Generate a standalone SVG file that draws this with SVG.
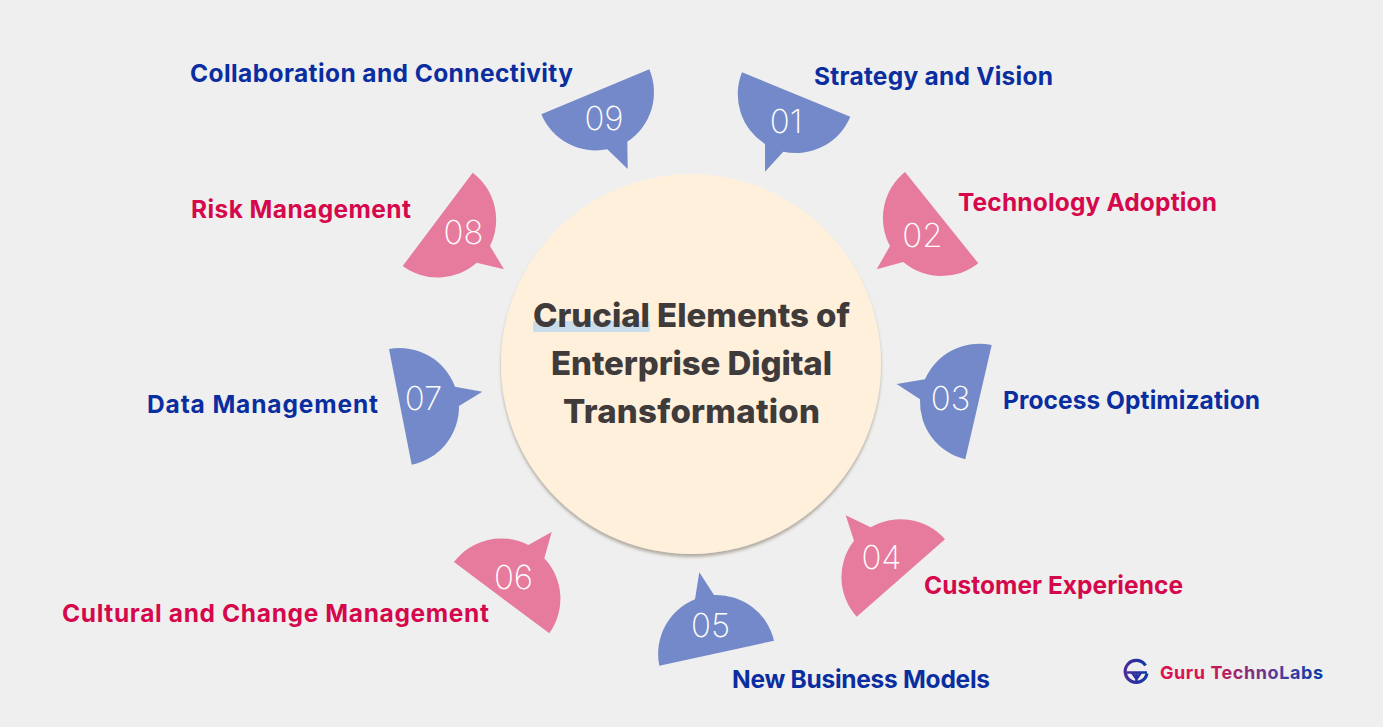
<svg xmlns="http://www.w3.org/2000/svg" width="1383" height="727" viewBox="0 0 1383 727">
<style>
.b{fill:#7489c9}.p{fill:#e67b9d}
.n{font-family:Inter,"Open Sans",sans-serif;font-weight:150;font-size:33px;fill:#fff;text-anchor:middle}
.l{font-family:Inter,"Open Sans",sans-serif;font-weight:700;font-size:24.5px}
.lb{fill:#0a2da0}.lp{fill:#d5084c}
.t{font-family:Inter,"Open Sans",sans-serif;font-weight:800;font-size:33px;fill:#3f3b3b}
</style>
<defs>
<filter id="sh" x="-10%" y="-10%" width="120%" height="120%"><feDropShadow dx="0" dy="3" stdDeviation="1.8" flood-color="#5a4a30" flood-opacity=".4"/></filter>
<linearGradient id="lg" gradientUnits="userSpaceOnUse" x1="1160" y1="0" x2="1323" y2="0"><stop offset="0" stop-color="#dc1150"/><stop offset=".3" stop-color="#d5154f"/><stop offset=".75" stop-color="#4a3da0"/><stop offset="1" stop-color="#0b3aa5"/></linearGradient>
<linearGradient id="ig" gradientUnits="userSpaceOnUse" x1="1125" y1="0" x2="1148" y2="0"><stop offset="0" stop-color="#4a2a9a"/><stop offset="1" stop-color="#0b3aa5"/></linearGradient>
</defs>
<rect width="1383" height="727" fill="#efefef"/>
<g id="connectors"/>
<g id="center">
<circle cx="691" cy="364" r="190" fill="#fff0dc" filter="url(#sh)"/>
<rect x="533" y="321" width="117" height="11" rx="2" fill="#c9dcec"/>
<text class="t" x="533" y="327" textLength="317">Crucial Elements of</text>
<text class="t" x="551" y="374.5" textLength="281">Enterprise Digital</text>
<text class="t" x="563" y="422.5" textLength="257">Transformation</text>
</g>
<g id="node-01">
<path class="b" d="M742 72.3L850.3 116.7A59 59 0 0 1 783.3 151.7L765 171.7L765 144A59 59 0 0 1 742 72.3Z"/>
<text class="n" x="786" y="133">01</text>
<text class="l lb" x="814" y="85" textLength="239">Strategy and Vision</text>
</g>
<g id="node-02">
<path class="p" d="M905 172L978.3 263.3A59 59 0 0 1 903.3 262L876.7 269.3L890 246A59 59 0 0 1 905 172Z"/>
<text class="n" x="922.5" y="247">02</text>
<text class="l lp" x="958" y="211" textLength="259">Technology Adoption</text>
</g>
<g id="node-03">
<path class="b" d="M991.7 345L965.3 459.3A59 59 0 0 1 920 399.3L896.7 384L925 379.3A59 59 0 0 1 991.7 345Z"/>
<text class="n" x="950.5" y="410">03</text>
<text class="l lb" x="1003" y="409" textLength="257">Process Optimization</text>
</g>
<g id="node-04">
<path class="p" d="M945 539.3L856.7 616.7A59 59 0 0 1 854 540.7L845.7 515.3L870.7 527.3A59 59 0 0 1 945 539.3Z"/>
<text class="n" x="881.5" y="569">04</text>
<text class="l lp" x="924" y="594" textLength="259">Customer Experience</text>
</g>
<g id="node-05">
<path class="b" d="M774 640.7L659.3 665.7A59 59 0 0 1 695 599.3L699.3 572.3L714 595A59 59 0 0 1 774 640.7Z"/>
<text class="n" x="710.5" y="637">05</text>
<text class="l lb" x="732" y="688" textLength="258">New Business Models</text>
</g>
<g id="node-06">
<path class="p" d="M454 562L549.3 633.3A59 59 0 0 0 544.3 558.3L551.7 532L528.3 545A59 59 0 0 0 454 562Z"/>
<text class="n" x="513.5" y="589">06</text>
<text class="l lp" x="62" y="622" textLength="427">Cultural and Change Management</text>
</g>
<g id="node-07">
<path class="b" d="M389 349L411.7 464.7A59 59 0 0 0 459 406L482.3 391.7L455 386.7A59 59 0 0 0 389 349Z"/>
<text class="n" x="423.5" y="410">07</text>
<text class="l lb" x="147" y="413" textLength="231">Data Management</text>
</g>
<g id="node-08">
<path class="p" d="M472.7 172.7L402.7 266A59 59 0 0 0 476.7 262.7L504 269.3L490 246A59 59 0 0 0 472.7 172.7Z"/>
<text class="n" x="463.5" y="244">08</text>
<text class="l lp" x="191" y="218" textLength="220">Risk Management</text>
</g>
<g id="node-09">
<path class="b" d="M649.3 69.3L541.3 114.3A59 59 0 0 0 607.3 149.3L627.7 169L627.3 141.7A59 59 0 0 0 649.3 69.3Z"/>
<text class="n" x="604" y="130">09</text>
<text class="l lb" x="190" y="82" textLength="383">Collaboration and Connectivity</text>
</g>
<g id="logo">
<path d="M1145.5 665.5A11 11 0 1 0 1147 673.5" fill="none" stroke="url(#ig)" stroke-width="3.2"/>
<path d="M1127 672.5H1147M1136.5 672.5V683M1141 672.5L1136.5 679L1132 672.5" fill="none" stroke="url(#ig)" stroke-width="2.6"/>
<text x="1160" y="679" font-family="Inter,'Open Sans',sans-serif" font-weight="700" font-size="18" fill="url(#lg)" textLength="163">Guru TechnoLabs</text>
</g>
</svg>
